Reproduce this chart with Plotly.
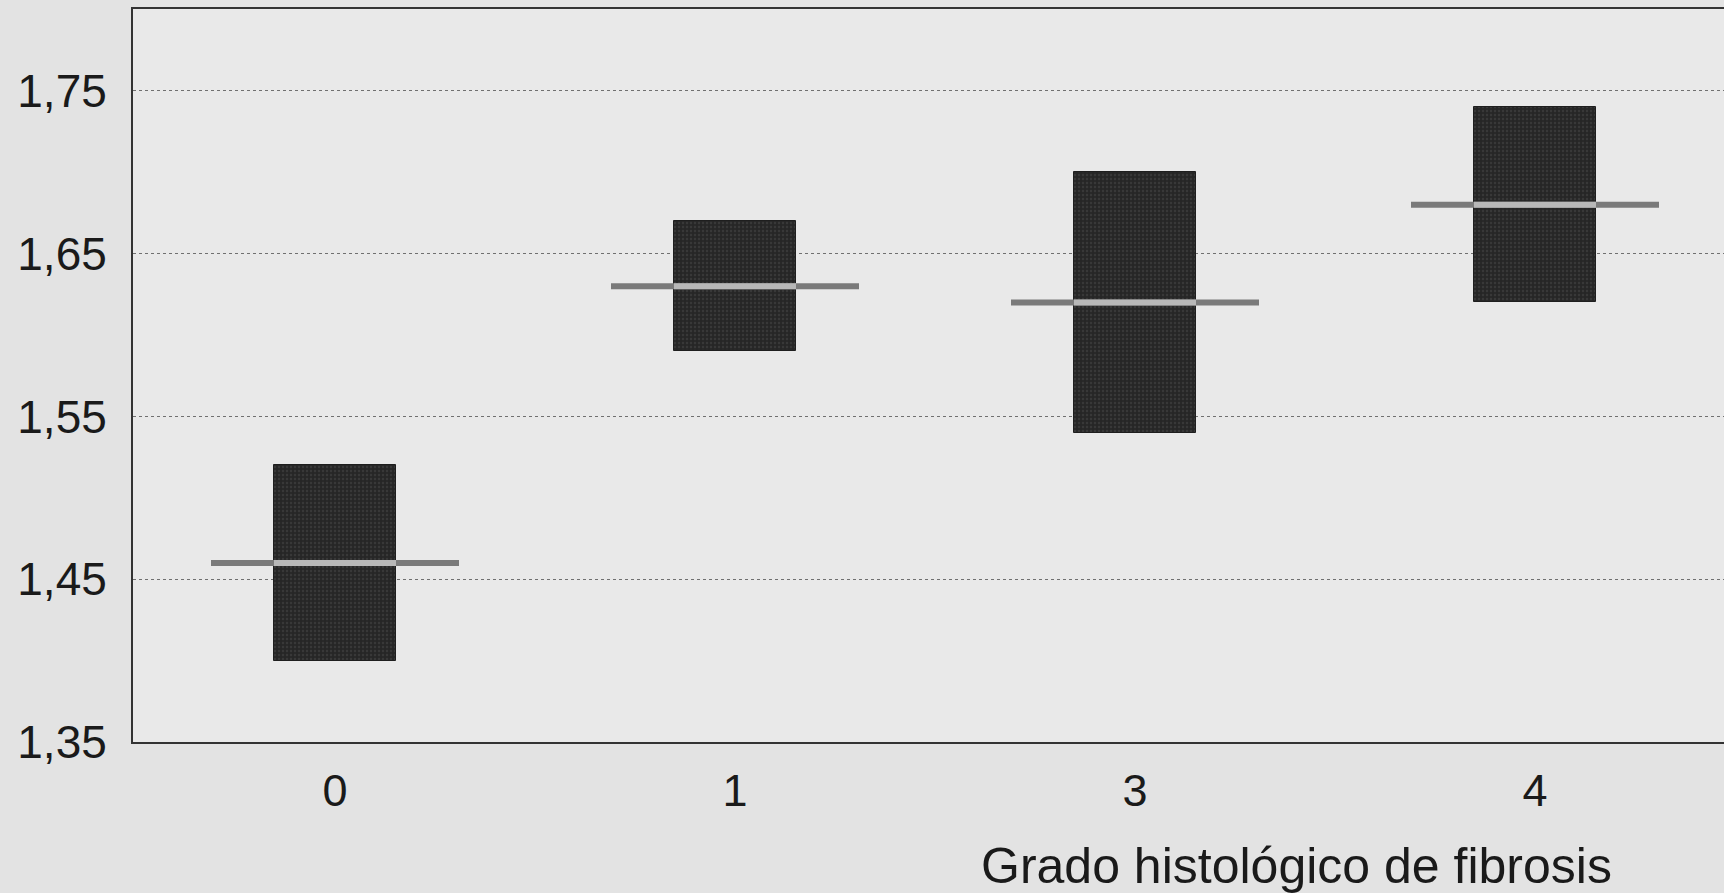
import plotly.graph_objects as go

categories = ["0", "1", "3", "4"]
box_low = [1.40, 1.59, 1.54, 1.62]
box_high = [1.52, 1.67, 1.70, 1.74]
medians = [1.46, 1.63, 1.62, 1.68]
y_ticks = [1.35, 1.45, 1.55, 1.65, 1.75]
y_tick_text = ["1,35", "1,45", "1,55", "1,65", "1,75"]
x_title = "Grado histológico de fibrosis"

BOX_W = 0.305
MED_HALF = 0.31
FONT = "Liberation Sans, Arial, Helvetica, sans-serif"

idx = list(range(len(categories)))
fig = go.Figure()

fig.add_trace(go.Bar(
    x=idx,
    y=[h - l for h, l in zip(box_high, box_low)],
    base=box_low,
    width=BOX_W,
    marker=dict(color="#2a2a2a", line=dict(color="#1e1e1e", width=1),
                pattern=dict(shape=".", fgcolor="#4a4a4a", bgcolor="#262626", size=4, solidity=0.3)),
    showlegend=False,
    hoverinfo="skip",
))

# median lines: outer grey part, then lighter part inside box
for i, m in zip(idx, medians):
    fig.add_trace(go.Scatter(
        x=[i - MED_HALF, i + MED_HALF], y=[m, m], mode="lines",
        line=dict(color="#7a7a7a", width=6), showlegend=False, hoverinfo="skip"))
    fig.add_trace(go.Scatter(
        x=[i - BOX_W / 2, i + BOX_W / 2], y=[m, m], mode="lines",
        line=dict(color="#b8b8b8", width=6), showlegend=False, hoverinfo="skip"))

fig.update_layout(
    width=1724, height=893,
    margin=dict(l=133, r=0, t=9, b=151),
    paper_bgcolor="#e3e3e3",
    plot_bgcolor="#e9e9e9",
    font=dict(family=FONT, color="#1a1a1a", size=44),
    showlegend=False,
    bargap=0,
)

fig.update_xaxes(
    range=[-0.505, 3.4725],
    tickvals=idx, ticktext=categories,
    tickfont=dict(size=45, family=FONT, color="#1a1a1a"),
    showgrid=False, zeroline=False,
    showline=True, linecolor="#333333", linewidth=2, mirror=True,
    ticks="", ticklabelstandoff=8,
)
fig.update_yaxes(
    range=[1.35, 1.8003],
    tickvals=y_ticks, ticktext=y_tick_text,
    tickfont=dict(size=46, family=FONT, color="#1a1a1a"),
    showgrid=True, gridcolor="#707070", gridwidth=1, griddash="dot",
    zeroline=False,
    showline=True, linecolor="#333333", linewidth=2, mirror=False,
    ticks="", ticklabelstandoff=15,
)

fig.add_annotation(
    text=x_title, xref="paper", yref="paper",
    x=0.731, y=-0.169, xanchor="center", yanchor="middle",
    showarrow=False, font=dict(size=50, family=FONT, color="#1a1a1a"),
)

fig.write_html("out.html")
